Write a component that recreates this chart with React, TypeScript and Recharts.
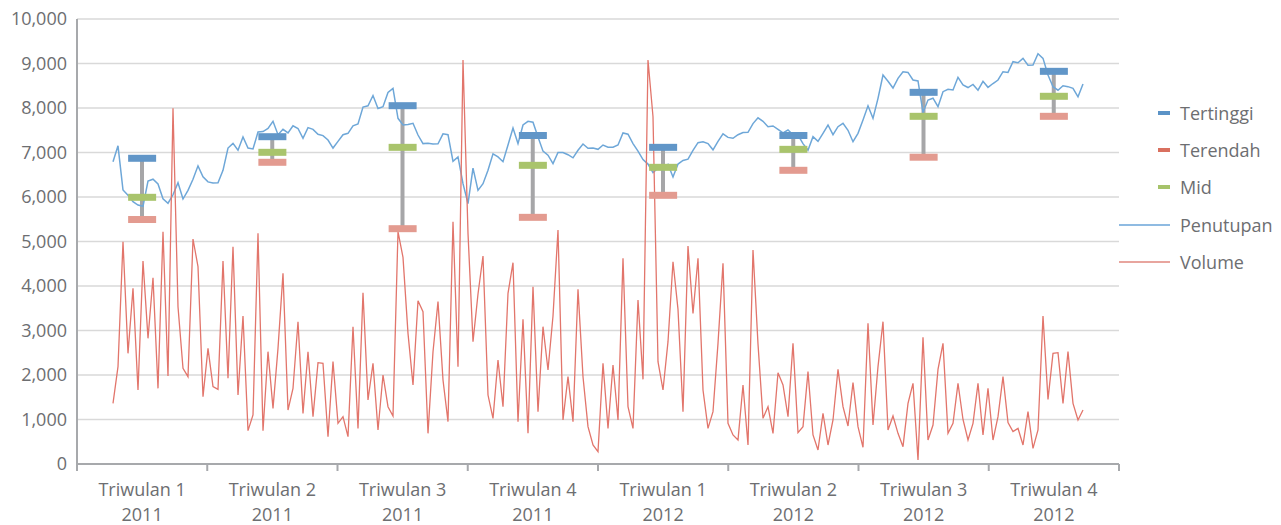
import React from 'react';
import { ComposedChart, Line, Bar, XAxis, YAxis, CartesianGrid } from 'recharts';

// ---------- quarterly data ----------
const quarterNames = ['Triwulan 1', 'Triwulan 2', 'Triwulan 3', 'Triwulan 4', 'Triwulan 1', 'Triwulan 2', 'Triwulan 3', 'Triwulan 4'];
const quarterYears = ['2011', '2011', '2011', '2011', '2012', '2012', '2012', '2012'];
const tertinggi = [6870, 7355, 8052, 7382, 7116, 7382, 8352, 8824];
const terendah = [5494, 6780, 5288, 5543, 6038, 6600, 6894, 7813];
const mid = [5993, 7004, 7116, 6712, 6667, 7071, 7813, 8263];

// ---------- daily data ----------
const penutupan = [
  6793, 7150, 6157, 6040, 5894, 5820, 5790, 6360, 6400, 6292,
  5960, 5860, 6050, 6322, 5955, 6150, 6400, 6700, 6456, 6340,
  6314, 6322, 6600, 7100, 7206, 7050, 7350, 7100, 7080, 7460,
  7470, 7543, 7700, 7400, 7521, 7440, 7600, 7540, 7319, 7560,
  7520, 7410, 7380, 7281, 7100, 7250, 7400, 7431, 7600, 7640,
  8020, 8050, 8280, 7990, 8030, 8350, 8442, 7768, 7618, 7630,
  7656, 7393, 7200, 7210, 7191, 7195, 7420, 7400, 6800, 6900,
  6300, 5850, 6650, 6150, 6300, 6600, 6970, 6900, 6793, 7168,
  7550, 7200, 7618, 7700, 7680, 7350, 7030, 6940, 6750, 7000,
  7000, 6950, 6880, 7050, 7191, 7094, 7100, 7071, 7168, 7120,
  7120, 7168, 7440, 7410, 7200, 7030, 6840, 6740, 6550, 6645,
  6600, 6730, 6450, 6740, 6820, 6850, 7050, 7220, 7240, 7200,
  7060, 7250, 7420, 7340, 7320, 7400, 7450, 7453, 7650, 7780,
  7700, 7580, 7596, 7520, 7440, 7506, 7400, 7393, 7200, 7050,
  7356, 7250, 7431, 7618, 7400, 7580, 7656, 7500, 7243, 7430,
  7730, 8050, 7768, 8217, 8742, 8600, 8450, 8667, 8816, 8800,
  8629, 8607, 7900, 8180, 8220, 8030, 8367, 8420, 8404, 8689,
  8520, 8460, 8530, 8400, 8600, 8464, 8550, 8629, 8816, 8800,
  9041, 9018, 9116, 8960, 8966, 9220, 9116, 8742, 8479, 8400,
  8500, 8480, 8442, 8250, 8539,
];

const volume = [
  1363, 2187, 4996, 2487, 3947, 1663, 4561, 2824, 4187, 1700,
  5221, 1977, 7992, 3535, 2150, 1962, 5056, 4434, 1513, 2599,
  1738, 1678, 4561, 1925, 4883, 1550, 3326, 749, 1101, 5183,
  749, 2524, 1250, 2599, 4284, 1213, 1700, 3198, 1138, 2524,
  1064, 2277, 2262, 614, 2300, 914, 1064, 614, 3086, 801,
  3850, 1438, 2262, 764, 2000, 1288, 1079, 5221, 4644, 2936,
  1775, 3670, 3423, 689, 2524, 3648, 1888, 951, 5445, 2187,
  9078, 5183, 2749, 3820, 4674, 1550, 1026, 2337, 1288, 3835,
  4524, 951, 3251, 689, 3985, 1176, 3086, 2112, 3326, 5258,
  989, 1962, 951, 3925, 1962, 839, 427, 277, 2262, 801,
  2225, 989, 4621, 1288, 801, 3685, 1902, 9078, 7805, 2300,
  1663, 2749, 4546, 3475, 1176, 4898, 3385, 4621, 1663, 801,
  1176, 2711, 4509, 914, 652, 539, 1775, 427, 4809, 2696,
  1026, 1288, 689, 2052, 1775, 1064, 2711, 704, 839, 2075,
  652, 315, 1138, 427, 989, 2127, 1288, 854, 1828, 839,
  375, 3161, 876, 2187, 3198, 764, 1079, 689, 389, 1363,
  1813, 90, 2846, 539, 876, 2127, 2711, 689, 914, 1813,
  1000, 539, 914, 1813, 652, 1700, 539, 1064, 1962, 929,
  727, 801, 427, 1176, 352, 764, 3326, 1453, 2487, 2502,
  1363, 2524, 1363, 989, 1213,
];

const yTicks = [0, 1000, 2000, 3000, 4000, 5000, 6000, 7000, 8000, 9000, 10000];

// ---------- tables built from the arrays ----------
const quarterRows = quarterNames.map((q, i) => ({
  q: `${q} ${quarterYears[i]}`,
  name: q,
  year: quarterYears[i],
  high: tertinggi[i],
  low: terendah[i],
  mid: mid[i],
  range: [terendah[i], tertinggi[i]],
}));

const dailyRows = penutupan.map((c, i) => ({ day: i, close: c, volume: volume[i] }));

// ---------- styles ----------
const FONT = "'Open Sans', sans-serif";
const TEXT = '#6d6e71';
const AXIS = '#a7a9ac';
const GRID = '#d9d9d9';
const C_HIGH = '#6196c8';
const C_LOW = '#e39b90';
const C_MID = '#a9c46c';
const C_RANGE = '#a6a6a8';
const C_CLOSE = '#6ea7d8';
const C_VOL = '#e2756b';

const W = 1281;
const H = 525;
const DAY_PAD = 7.2;

const markerDot = (color: string) => (props: any) => {
  const { cx, cy, index } = props;
  if (cx == null || cy == null) return <g key={`m-${index}`} />;
  return <rect key={`m-${index}`} x={cx - 14} y={cy - 3.5} width={28} height={7} fill={color} />;
};

const QuarterTick = (props: any) => {
  const { x, y, payload, index } = props;
  const half = payload && payload.offset != null ? payload.offset : 65;
  const row = quarterRows.find((r) => r.q === payload.value);
  const last = index === quarterRows.length - 1;
  return (
    <g>
      <line x1={x - half} x2={x - half} y1={y} y2={y + 7} stroke={AXIS} strokeWidth={2} />
      {last && <line x1={x + half} x2={x + half} y1={y} y2={y + 7} stroke={AXIS} strokeWidth={2} />}
      <text x={x} y={y} textAnchor="middle" fill={TEXT} fontSize={18} fontFamily={FONT}>
        <tspan x={x} dy={32}>{row ? row.name : ''}</tspan>
        <tspan x={x} dy={25}>{row ? row.year : ''}</tspan>
      </text>
    </g>
  );
};

const legendItems = [
  { label: 'Tertinggi', kind: 'marker', color: '#5b93c7' },
  { label: 'Terendah', kind: 'marker', color: '#d9705f' },
  { label: 'Mid', kind: 'marker', color: '#a6c36a' },
  { label: 'Penutupan', kind: 'line', color: '#6aa5d8' },
  { label: 'Volume', kind: 'line', color: '#e0877e' },
];

function LegendBox() {
  return (
    <div style={{ position: 'absolute', left: 1119, top: 94, fontFamily: FONT, color: TEXT }}>
      {legendItems.map((it) => (
        <div key={it.label} style={{ display: 'flex', alignItems: 'center', height: 37.3 }}>
          <svg width={51} height={10} style={{ display: 'block' }}>
            {it.kind === 'marker' ? (
              <rect x={39} y={3} width={12} height={4} fill={it.color} />
            ) : (
              <line x1={0} x2={51} y1={5} y2={5} stroke={it.color} strokeWidth={1.5} />
            )}
          </svg>
          <span style={{ marginLeft: 10, fontSize: 18, lineHeight: '20px', whiteSpace: 'nowrap' }}>{it.label}</span>
        </div>
      ))}
    </div>
  );
}

export default function App() {
  return (
    <div style={{ position: 'relative', width: W, height: H, margin: '-8px 0 0 -8px' }}>
      <ComposedChart
        width={W}
        height={H}
        data={quarterRows}
        margin={{ top: 19, right: 162, bottom: 11, left: 17 }}
      >
        <CartesianGrid vertical={false} stroke={GRID} strokeWidth={1.5} />
        <XAxis
          xAxisId="q"
          dataKey="q"
          type="category"
          scale="band"
          height={50}
          interval={0}
          tickLine={false}
          tickSize={0}
          tickMargin={0}
          axisLine={{ stroke: AXIS, strokeWidth: 2 }}
          tick={<QuarterTick />}
        />
        <XAxis
          xAxisId="day"
          dataKey="day"
          type="number"
          domain={[-DAY_PAD, penutupan.length - 1 + DAY_PAD]}
          allowDataOverflow
          height={0}
          hide
        />
        <YAxis
          domain={[0, 10000]}
          ticks={yTicks}
          interval={0}
          width={60}
          tickLine={false}
          tickMargin={4}
          axisLine={{ stroke: AXIS, strokeWidth: 2 }}
          tick={{ fill: TEXT, fontSize: 18, fontFamily: FONT }}
          tickFormatter={(v: number) => v.toLocaleString('en-US')}
        />
        <Bar xAxisId="q" dataKey="range" barSize={4} fill={C_RANGE} isAnimationActive={false} />
        <Line xAxisId="q" dataKey="high" stroke="none" dot={markerDot(C_HIGH)} activeDot={false} isAnimationActive={false} />
        <Line xAxisId="q" dataKey="low" stroke="none" dot={markerDot(C_LOW)} activeDot={false} isAnimationActive={false} />
        <Line xAxisId="q" dataKey="mid" stroke="none" dot={markerDot(C_MID)} activeDot={false} isAnimationActive={false} />
        <Line
          xAxisId="day"
          data={dailyRows}
          dataKey="close"
          stroke={C_CLOSE}
          strokeWidth={1.5}
          dot={false}
          activeDot={false}
          isAnimationActive={false}
        />
        <Line
          xAxisId="day"
          data={dailyRows}
          dataKey="volume"
          stroke={C_VOL}
          strokeWidth={1.3}
          dot={false}
          activeDot={false}
          isAnimationActive={false}
        />
      </ComposedChart>
      <LegendBox />
    </div>
  );
}
